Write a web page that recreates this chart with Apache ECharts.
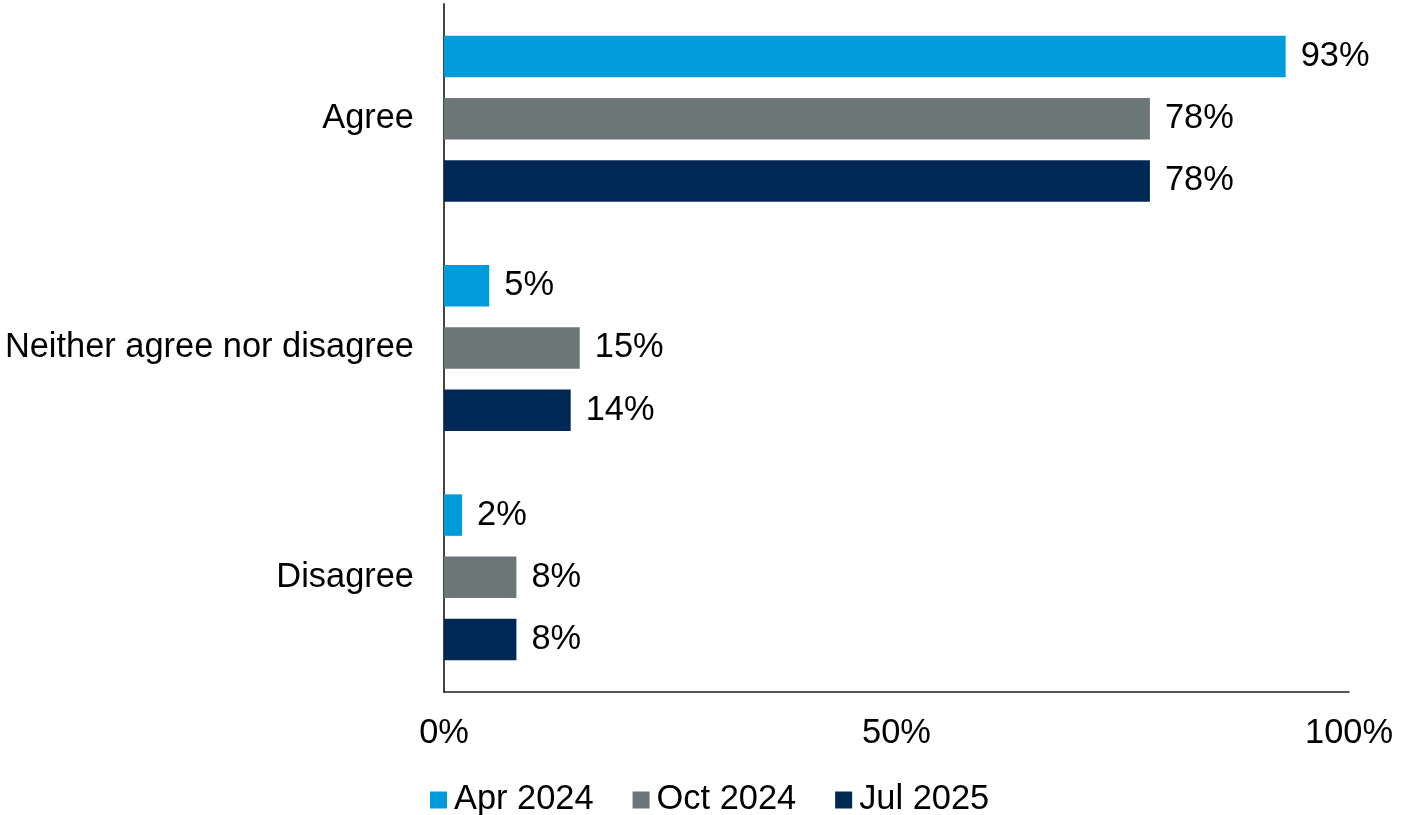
<!DOCTYPE html>
<html>
<head>
<meta charset="utf-8">
<script src="https://cdn.jsdelivr.net/npm/echarts@6/dist/echarts.min.js"></script>
<style>
  html, body { margin: 0; padding: 0; background: #ffffff; }
  #chart { width: 1402px; height: 815px; }
</style>
</head>
<body>
<div id="chart"></div>
<script>
// Survey responses by wave
const categories = ['Agree', 'Neither agree nor disagree', 'Disagree'];
const seriesNames = ['Apr 2024', 'Oct 2024', 'Jul 2025'];
const apr2024 = [93, 5, 2];
const oct2024 = [78, 15, 8];
const jul2025 = [78, 14, 8];
const xTicks = [0, 50, 100];

const colors = ['#009CD9', '#6D7676', '#002855'];
const FONT = 'Liberation Sans, Arial, sans-serif';
const FS = 34.4;

const chart = echarts.init(document.getElementById('chart'), null, { renderer: 'canvas' });

const values = [apr2024, oct2024, jul2025];
const series = seriesNames.map((name, i) => ({
  name: name,
  type: 'bar',
  data: values[i],
  barWidth: 41.5,
  barGap: '50%',
  itemStyle: { color: colors[i] },
  label: {
    show: true,
    position: 'right',
    distance: 15,
    formatter: p => p.value + '%',
    color: '#000',
    fontFamily: FONT,
    fontSize: FS,
    padding: [4, 0, 0, 0]
  }
}));

chart.setOption({
  animation: false,
  color: colors,
  grid: { left: 444, right: 53, top: 4, bottom: 123, containLabel: false },
  legend: {
    data: seriesNames,
    left: 430,
    top: 783,
    padding: 0,
    icon: 'rect',
    itemWidth: 17,
    itemHeight: 17,
    itemGap: 39,
    textStyle: { fontFamily: FONT, fontSize: FS, color: '#000', padding: [0, 0, 0, 2] }
  },
  xAxis: {
    type: 'value',
    min: xTicks[0],
    max: xTicks[xTicks.length - 1],
    interval: xTicks[1] - xTicks[0],
    axisLine: { show: true, lineStyle: { color: '#222', width: 1.5 } },
    axisTick: { show: false },
    splitLine: { show: false },
    axisLabel: {
      formatter: v => v + '%',
      fontFamily: FONT,
      fontSize: FS,
      color: '#000',
      margin: 25
    }
  },
  yAxis: {
    type: 'category',
    data: categories,
    inverse: true,
    axisLine: { show: true, lineStyle: { color: '#444', width: 2 } },
    axisTick: { show: false },
    axisLabel: {
      fontFamily: FONT,
      fontSize: FS,
      color: '#000',
      margin: 30,
      padding: [4, 0, 0, 0]
    }
  },
  series: series
});
</script>
</body>
</html>
